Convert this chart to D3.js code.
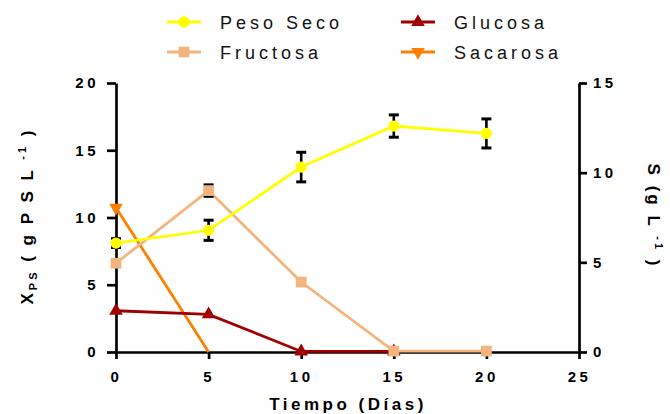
<!DOCTYPE html>
<html><head><meta charset="utf-8">
<script src="https://cdn.jsdelivr.net/npm/d3@7"></script>
<style>body{margin:0;background:#fff}svg{display:block}text{font-family:"Liberation Sans",Arial,sans-serif}</style>
</head><body><svg id="c" width="670" height="414"></svg>
<script>
const days = [0, 5, 10, 15, 20];
const pesoSeco = [8.1, 9.05, 13.75, 16.8, 16.25];
const pesoSecoErr = [0.33, 0.75, 1.1, 0.83, 1.08];
const fructosa = [4.95, 9.0, 3.9, 0.05, 0.05];
const fructosaErr = [0, 0.32, 0, 0, 0];
const glucosaDays = [0, 5, 10, 15];
const glucosa = [2.3, 2.1, 0.03, 0.03];
const sacarosaDays = [0, 5];
const sacarosa = [8.05, 0];
const sacarosaMarkers = [true, false];
const xTicks = [0, 5, 10, 15, 20, 25];
const yLeftTicks = [0, 5, 10, 15, 20];
const yRightTicks = [0, 5, 10, 15];

const col = {peso:"#ffff00", fru:"#f3b47e", glu:"#a00000", sac:"#ff7f00"};
const svg = d3.select("#c");
const x = d3.scaleLinear().domain([0,25]).range([116,579]);
const yL = d3.scaleLinear().domain([0,20]).range([352,83]);
const yR = d3.scaleLinear().domain([0,15]).range([352,83]);

function styleAxis(g){
  g.select(".domain").attr("stroke","#000").attr("stroke-width",2.7);
  g.selectAll(".tick line").attr("stroke","#000").attr("stroke-width",2.7);
  g.selectAll(".tick text").attr("font-family","Liberation Sans, Arial, sans-serif")
    .attr("font-size",15).attr("font-weight","bold").attr("fill","#000").style("letter-spacing","3.5px");
}
const gx = svg.append("g").attr("transform","translate(0,352)")
  .call(d3.axisBottom(x).tickValues(xTicks).tickSize(7).tickSizeOuter(0).tickPadding(12).tickFormat(d3.format("d")));
styleAxis(gx);
const gl = svg.append("g").attr("transform","translate(116,0)")
  .call(d3.axisLeft(yL).tickValues(yLeftTicks).tickSize(9).tickSizeOuter(0).tickPadding(8).tickFormat(d3.format("d")));
styleAxis(gl);
const gr = svg.append("g").attr("transform","translate(579,0)")
  .call(d3.axisRight(yR).tickValues(yRightTicks).tickSize(8).tickSizeOuter(0).tickPadding(6).tickFormat(d3.format("d")));
styleAxis(gr);

const sym = {
  circle: d3.symbol().type(d3.symbolCircle).size(100),
  square: d3.symbol().type(d3.symbolSquare).size(115),
  tri: d3.symbol().type(d3.symbolTriangle).size(80),
  triDown: d3.symbol().type(d3.symbolTriangle).size(80)
};
function marker(g, type, cx, cy, color){
  return g.append("path").attr("d", sym[type]()).attr("fill", color)
    .attr("transform", `translate(${cx},${cy})` + (type==="triDown" ? " rotate(180)" : ""));
}
function series(xs, ys, yScale, color, type, errs, showMk){
  const g = svg.append("g");
  const line = d3.line().x((d,i)=>x(xs[i])).y(d=>yScale(d));
  g.append("path").datum(ys).attr("d", line).attr("fill","none").attr("stroke",color).attr("stroke-width",2.8);
  if (errs) {
    ys.forEach((v,i)=>{
      if(!errs[i]) return;
      const cx = x(xs[i]), y1 = yScale(v+errs[i]), y2 = yScale(v-errs[i]);
      g.append("line").attr("x1",cx).attr("x2",cx).attr("y1",y1).attr("y2",y2).attr("stroke","#000").attr("stroke-width",2.6);
      [y1,y2].forEach(yy=>g.append("line").attr("x1",cx-5).attr("x2",cx+5).attr("y1",yy).attr("y2",yy).attr("stroke","#000").attr("stroke-width",3));
    });
  }
  ys.forEach((v,i)=>{
    if (showMk && !showMk[i]) return;
    marker(g, type, x(xs[i]), yScale(v), color);
  });
}
series(sacarosaDays, sacarosa, yR, col.sac, "triDown", null, sacarosaMarkers);
series(glucosaDays, glucosa, yR, col.glu, "tri", null, null);
series(days, fructosa, yR, col.fru, "square", fructosaErr, null);
series(days, pesoSeco, yL, col.peso, "circle", pesoSecoErr, null);

const legend = [
  {name:"Peso Seco", color:col.peso, type:"circle", lx:167, ly:22},
  {name:"Glucosa", color:col.glu, type:"tri", lx:401, ly:22},
  {name:"Fructosa", color:col.fru, type:"square", lx:167, ly:52},
  {name:"Sacarosa", color:col.sac, type:"triDown", lx:401, ly:52}
];
legend.forEach(d=>{
  const g = svg.append("g");
  g.append("line").attr("x1",d.lx).attr("x2",d.lx+34).attr("y1",d.ly).attr("y2",d.ly).attr("stroke",d.color).attr("stroke-width",2.8);
  marker(g, d.type, d.lx+17, d.ly, d.color);
  g.append("text").attr("x",d.lx+53).attr("y",d.ly+7).attr("font-size",18).attr("fill","#111")
    .style("letter-spacing","4px").text(d.name);
});

svg.append("text").attr("x",348).attr("y",410).attr("text-anchor","middle").attr("font-size",17)
  .attr("font-weight","bold").style("letter-spacing","3.5px").text("Tiempo (Días)");

const lt = svg.append("text").attr("transform","translate(33,216) rotate(-90)").attr("text-anchor","middle")
  .attr("font-size",17).attr("font-weight","bold").style("letter-spacing","3px");
lt.append("tspan").text("X");
lt.append("tspan").attr("font-size",11).attr("dy",4).text("PS");
lt.append("tspan").attr("dy",-4).text(" ( g P S L ");
lt.append("tspan").attr("font-size",11).attr("dy",-7).text("-1");
lt.append("tspan").attr("dy",7).text(" )");

const rt = svg.append("text").attr("transform","translate(648,216) rotate(90)").attr("text-anchor","middle")
  .attr("font-size",17).attr("font-weight","bold").style("letter-spacing","3px");
rt.append("tspan").text("S (g L ");
rt.append("tspan").attr("font-size",11).attr("dy",-7).text("-1");
rt.append("tspan").attr("dy",7).text(" )");
</script></body></html>
